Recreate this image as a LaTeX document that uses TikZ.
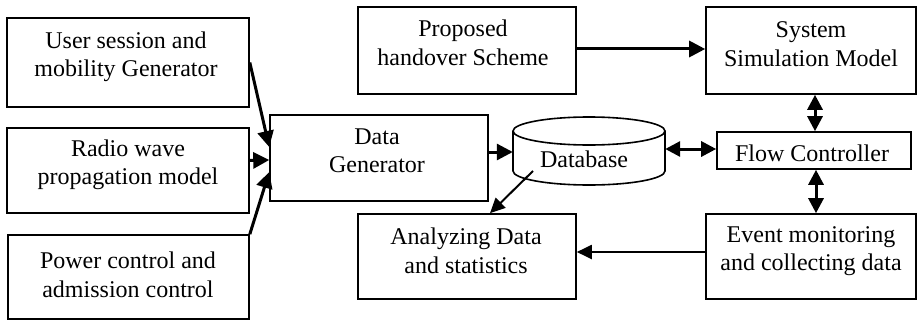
\documentclass[tikz,border=0pt]{standalone}
\usepackage{fontspec}
\setmainfont{Liberation Serif}
\usetikzlibrary{arrows.meta}

\tikzset{
  box/.style={draw, line width=1.6pt, inner sep=0pt},
  txt/.style={align=center, inner sep=0pt, font=\fontsize{24}{28.5}\selectfont},
  flowline/.style={line width=3pt, -{Triangle[length=16pt,width=16pt]}},
  thinflow/.style={line width=2pt, -{Triangle[length=15pt,width=14pt]}},
  twoway/.style={line width=3pt, {Triangle[length=15pt,width=15pt]}-{Triangle[length=15pt,width=15pt]}},
}

\begin{document}
\begin{tikzpicture}[x=1pt, y=-1pt]
  \useasboundingbox[fill=white] (0,0) rectangle (917,321);

  % input generators on the left
  \node[box, minimum width=242pt, minimum height=89pt] (usr)   at (128,62.5)  {};
  \node[box, minimum width=242pt, minimum height=85pt] (radio) at (128,170.5) {};
  \node[box, minimum width=241pt, minimum height=84pt] (pwr)   at (128.5,277) {};
  \node[txt] (usrt)   at (126,57)  {User session and\\mobility Generator};
  \node[txt] (radiot) at (128,165) {Radio wave\\propagation model};
  \node[txt] (pwrt)   at (128,275) {Power control and\\admission control};

  % central column
  \node[box, minimum width=218pt, minimum height=86pt] (dg)   at (379,158)  {};
  \node[box, minimum width=218pt, minimum height=87pt] (prop) at (467,50.5) {};
  \node[box, minimum width=218pt, minimum height=85pt] (ana)  at (467,256.5) {};
  \node[txt] (dgt)   at (377,151) {Data\\Generator};
  \node[txt] (propt) at (463,43)  {Proposed\\handover Scheme};
  \node[txt] (anat)  at (466,251) {Analyzing Data\\and statistics};

  % database cylinder
  \node[minimum width=152pt, minimum height=68pt, inner sep=0pt] (db) at (589,151) {};
  \draw[line width=1.6pt] (513,131) -- (513,171)
        arc[start angle=180, end angle=360, x radius=76pt, y radius=14pt] -- (665,131);
  \draw[line width=1.6pt] (589,131) ellipse [x radius=76pt, y radius=14pt];
  \node[txt, anchor=base] (dbt) at (584,167) {Database};

  % simulation side on the right
  \node[box, minimum width=210pt, minimum height=87pt] (sys)  at (811,50.5)  {};
  \node[box, minimum width=194pt, minimum height=37pt] (flow) at (814,150.5) {};
  \node[box, minimum width=210pt, minimum height=85pt] (evt)  at (811,256.5) {};
  \node[txt] (syst)  at (811,44)  {System\\Simulation Model};
  \node[txt, anchor=base] (flowt) at (812,161) {Flow Controller};
  \node[txt] (evtt)  at (811,251) {Event monitoring\\and collecting data};

  % connectors
  \draw[flowline] (usr.east) -- ([yshift=11pt]dg.west);
  \draw[flowline] ([yshift=10pt]radio.east) -- ([yshift=-2pt]dg.west);
  \draw[flowline] (pwr.north east) -- ([yshift=-14pt]dg.west);
  \draw[flowline] ([yshift=6pt]dg.east) -- ([yshift=-1pt]db.west);
  \draw[twoway] ([yshift=2pt]db.east) -- ([yshift=1.5pt]flow.west);
  \draw[flowline] ([yshift=1.5pt]prop.east) -- ([yshift=1.5pt]sys.west);
  \draw[twoway] ([xshift=4pt]sys.south) -- ([xshift=1pt]flow.north);
  \draw[twoway] ([xshift=2pt]flow.south) -- ([xshift=5pt]evt.north);
  \draw[thinflow] ([yshift=4.5pt]evt.west) -- ([yshift=4.5pt]ana.east);
  \draw[thinflow] ([xshift=-56pt,yshift=-20pt]db.center) -- ([xshift=23pt]ana.north);
\end{tikzpicture}
\end{document}
